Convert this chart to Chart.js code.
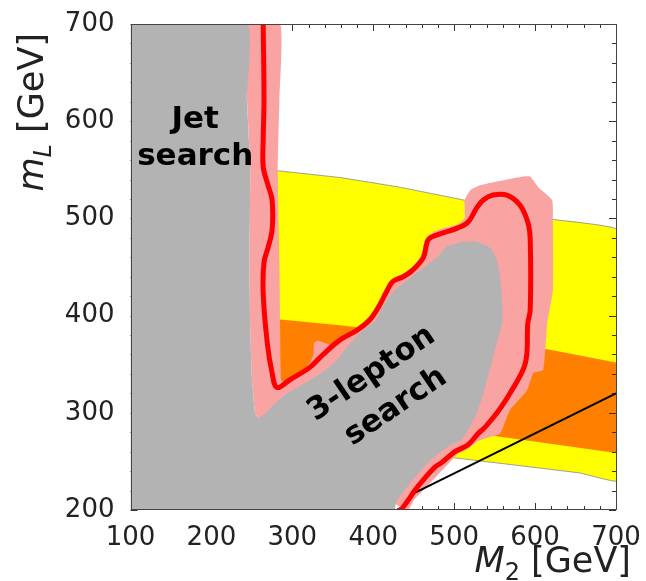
<!DOCTYPE html>
<html><head><meta charset="utf-8">
<script src="https://cdn.jsdelivr.net/npm/chart.js@4.4.0/dist/chart.umd.min.js"></script>
<style>html,body{margin:0;padding:0;background:#fff;}#c{display:block;}</style>
</head><body>
<canvas id="c" width="646" height="581" style="width:646px;height:581px"></canvas>
<script>
// ---- data (M2 [GeV], mL [GeV]) ----
const xTicks = [100, 200, 300, 400, 500, 600, 700];
const yTicks = [200, 300, 400, 500, 600, 700];

const yellowBand = [[270,551],[282,549],[359,542],[433,532],[511,519],[622,499],[705,487],
                    [705,230],[656,238],[507,253],[270,277]];
const orangeBand = [[270,396],[285,396],[359,390],[617,365],[705,351],
                    [705,258],[544,277],[270,308]];
const pinkBand = [[244,700],[285,700],[284,622],[282,548],[284,457],[285,385],[286,334],[290,332],
                  [306,336],[322,352],[326,360],[327,372],[332,374],[347,370],[359,378],[380,388],
                  [396,399],[408,416],[416,427],[424,438],[437,443],[449,451],[459,461],[464,478],
                  [476,487],[504,494],[513,500],[513,519],[520,529],[532,534],[585,543],[594,543],
                  [604,532],[621,519],[622,498],[622,426],[615,392],[610,344],[598,341],[590,323],
                  [569,303],[557,279],[544,275],[530,271],[517,263],[505,258],[499,253],[491,246],
                  [483,239],[464,222],[450,210],[443,200],[371,231],[258,295],[254,300],[250,337],
                  [248,388],[247,457],[248,550],[244,622]];
const excluded = [[100,700],[244,700],[244,622],[248,550],[247,457],[248,388],[250,337],[254,300],
                  [258,295],[265,298],[279,310],[294,320],[310,328],[334,340],[354,353],[371,371],
                  [391,388],[403,395],[413,411],[424,424],[449,441],[479,460],[491,471],[511,476],
                  [528,476],[544,470],[553,457],[557,437],[560,406],[559,392],[548,357],[535,316],
                  [526,296],[510,273],[494,266],[478,256],[469,250],[448,230],[428,208],[426,200],
                  [100,200]];
const redContour = [[264,700],[265,622],[264,581],[264,553],[270,534],[275,519],[275,488],[270,470],
                    [265,455],[264,423],[269,372],[275,341],[281,326],[297,334],[322,347],[338,360],
                    [359,375],[380,385],[396,396],[408,411],[416,424],[424,435],[437,440],[449,447],
                    [462,460],[468,478],[479,483],[504,490],[517,496],[528,511],[536,519],[548,524],
                    [565,524],[581,514],[591,496],[594,478],[594,406],[591,392],[588,351],[569,320],
                    [553,300],[538,285],[530,279],[517,267],[501,260],[485,249],[476,244],[455,224],
                    [436,202],[432,200]];
const blackLine = [[450,217],[700,320]];

const regionLabels = [
  {text: 'Jet', x: 180, y: 601, angle: 0},
  {text: 'search', x: 180, y: 563, angle: 0},
  {text: '3-lepton', x: 398, y: 340, angle: -34},
  {text: 'search', x: 428, y: 306, angle: -34}
];

// ---- chart ----
const FONT = "'DejaVu Sans', 'Liberation Sans', sans-serif";
Chart.defaults.font.family = FONT;
const toXY = a => a.map(([x, y]) => ({x, y}));
const poly = (label, pts, color, order, extra) => Object.assign({
  label, data: toXY(pts), backgroundColor: color, borderColor: color, borderWidth: 0,
  fill: 'shape', pointRadius: 0, tension: 0.15, order
}, extra || {});

const decor = {
  id: 'decor',
  afterDatasetDraw(chart, args) {
    if (chart.data.datasets[args.index].label !== 'orange') return;
    const {ctx, chartArea: a, scales: {x, y}} = chart;
    ctx.save();
    ctx.strokeStyle = '#333';
    ctx.lineWidth = 1;
    ctx.beginPath();
    for (let v = x.min; v <= x.max + 1e-6; v += 20) {
      const L = Math.abs(v % 100) < 1e-6 ? 7 : 4;
      const p = Math.round(x.getPixelForValue(v)) + 0.5;
      ctx.moveTo(p, a.bottom); ctx.lineTo(p, a.bottom - L);
      ctx.moveTo(p, a.top); ctx.lineTo(p, a.top + L);
    }
    for (let v = y.min; v <= y.max + 1e-6; v += 20) {
      const L = Math.abs(v % 100) < 1e-6 ? 7 : 4;
      const p = Math.round(y.getPixelForValue(v)) + 0.5;
      ctx.moveTo(a.left, p); ctx.lineTo(a.left + L, p);
      ctx.moveTo(a.right, p); ctx.lineTo(a.right - L, p);
    }
    ctx.stroke();
    ctx.restore();
  },
  afterDatasetsDraw(chart) {
    const {ctx, chartArea: a, scales: {x, y}} = chart;
    ctx.save();
    ctx.strokeStyle = '#444';
    ctx.lineWidth = 1;
    ctx.strokeRect(Math.round(a.left) + 0.5, Math.round(a.top) + 0.5,
                   Math.round(a.right - a.left) - 1, Math.round(a.bottom - a.top) - 1);
    ctx.fillStyle = '#000';
    ctx.font = 'bold 31px ' + FONT;
    ctx.textAlign = 'center';
    ctx.textBaseline = 'middle';
    for (const l of regionLabels) {
      ctx.save();
      ctx.translate(x.getPixelForValue(l.x), y.getPixelForValue(l.y));
      ctx.rotate(l.angle * Math.PI / 180);
      ctx.fillText(l.text, 0, 0);
      ctx.restore();
    }
    ctx.restore();
  },
  afterDraw(chart) {
    const ctx = chart.ctx;
    const big = 35, small = 24;
    const parts = (sym, sub) => [
      {t: sym, f: 'italic ' + big + 'px ' + FONT, dy: 0},
      {t: sub, f: 'italic ' + small + 'px ' + FONT, dy: 8},
      {t: ' [GeV]', f: big + 'px ' + FONT, dy: 0}
    ];
    const drawParts = (ps, endX, baseY) => {
      let w = 0;
      for (const p of ps) { ctx.font = p.f; p.w = ctx.measureText(p.t).width; w += p.w; }
      let cx = endX - w;
      ctx.textAlign = 'left';
      ctx.textBaseline = 'alphabetic';
      for (const p of ps) { ctx.font = p.f; ctx.fillText(p.t, cx, baseY + p.dy); cx += p.w; }
    };
    ctx.save();
    ctx.fillStyle = '#222';
    const xs = parts('M', '2');
    xs[1].f = small + 'px ' + FONT;
    drawParts(xs, 631, 572);
    ctx.translate(43, 33);
    ctx.rotate(-Math.PI / 2);
    drawParts(parts('m', 'L'), 0, 0);
    ctx.restore();
  }
};

new Chart(document.getElementById('c'), {
  type: 'line',
  data: {
    datasets: [
      poly('yellow', yellowBand, '#ffff00', 5, {borderWidth: 1, borderColor: 'rgba(150,150,140,0.9)', tension: 0.1}),
      poly('orange', orangeBand, '#ff8000', 4, {tension: 0}),
      poly('pink', pinkBand, '#f9a3a3', 3),
      poly('gray', excluded, '#b3b3b3', 2),
      {label: 'black', data: toXY(blackLine), borderColor: '#000', borderWidth: 2, pointRadius: 0, fill: false, order: 1},
      {label: 'red', data: toXY(redContour), borderColor: '#ff0000', borderWidth: 5, pointRadius: 0,
       fill: false, tension: 0.35, order: 0, borderCapStyle: 'round', borderJoinStyle: 'round'}
    ]
  },
  options: {
    responsive: false, animation: false, devicePixelRatio: 1, events: [],
    layout: {padding: {top: 24, right: 30, left: 0, bottom: 0}},
    plugins: {legend: {display: false}, tooltip: {enabled: false}},
    scales: {
      x: {
        type: 'linear', min: 100, max: 700,
        afterBuildTicks: s => { s.ticks = xTicks.map(v => ({value: v})); },
        grid: {display: false}, border: {display: false},
        ticks: {font: {size: 26}, color: '#222', padding: 5, maxRotation: 0, autoSkip: false},
        afterFit: s => { s.height = 71; }
      },
      y: {
        type: 'linear', min: 200, max: 700,
        afterBuildTicks: s => { s.ticks = yTicks.map(v => ({value: v})); },
        grid: {display: false}, border: {display: false},
        ticks: {font: {size: 26}, color: '#222', padding: 8, autoSkip: false},
        afterFit: s => { s.width = 130.5; }
      }
    }
  },
  plugins: [decor]
});
</script>
</body></html>
